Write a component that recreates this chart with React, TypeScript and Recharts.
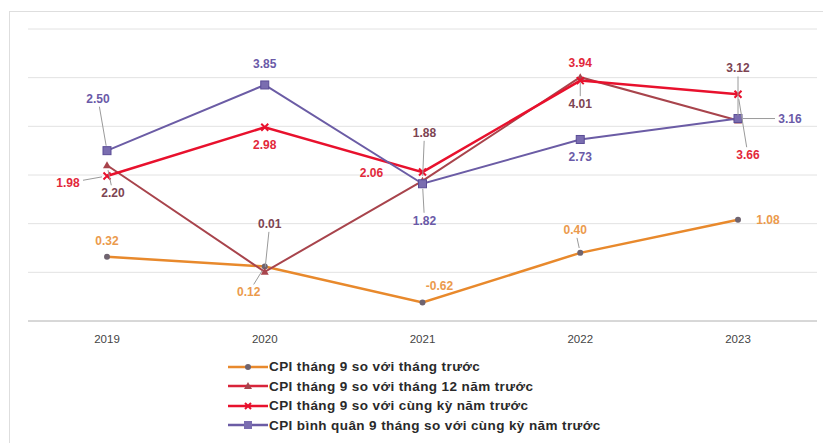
import React from 'react';
import { LineChart, Line, XAxis, YAxis, CartesianGrid, LabelList } from 'recharts';

const years = ['2019', '2020', '2021', '2022', '2023'];
const soThangTruoc = [0.32, 0.12, -0.62, 0.40, 1.08];
const soThang12 = [2.20, 0.01, 1.88, 4.01, 3.12];
const soCungKy = [1.98, 2.98, 2.06, 3.94, 3.66];
const binhQuan = [2.50, 3.85, 1.82, 2.73, 3.16];
const yTicks = [-1, 0, 1, 2, 3, 4, 5];

const names = [
    'CPI tháng 9 so với tháng trước',
    'CPI tháng 9 so với tháng 12 năm trước',
    'CPI tháng 9 so với cùng kỳ năm trước',
    'CPI bình quân 9 tháng so với cùng kỳ năm trước',
];

const data = years.map((y, i) => ({
    year: y,
    a: soThangTruoc[i],
    b: soThang12[i],
    c: soCungKy[i],
    d: binhQuan[i],
}));

// label placement per point: [dx, dy, leader line]
const offA: [number, number, boolean][] = [[0, -16, false], [-16, 26, true], [17, -17, false], [-5, -23, true], [30, 0, false]];
const offB: [number, number, boolean][] = [[6, 28, true], [5, -48, true], [2, -48, true], [0, 27, true], [0, -52, true]];
const offC: [number, number, boolean][] = [[-39, 7, true], [0, 18, false], [-51, 1, false], [0, -18, false], [10, 61, true]];
const offD: [number, number, boolean][] = [[-9, -52, true], [0, -21, false], [2, 37, true], [0, 18, false], [52, 0, true]];

const FONT = '"Liberation Sans", Arial, sans-serif';

function makeLabel(offsets: [number, number, boolean][], color: string) {
    return (props: any) => {
        const { x, y, value, index } = props;
        const [dx, dy, leader] = offsets[index];
        const cx = x + dx;
        const cy = y + dy;
        let line = null;
        if (leader) {
            const len = Math.sqrt(dx * dx + dy * dy);
            const ux = dx / len;
            const uy = dy / len;
            const s = Math.min(ux === 0 ? 999 : 15 / Math.abs(ux), uy === 0 ? 999 : 8 / Math.abs(uy));
            line = (
                <line x1={x + ux * 5} y1={y + uy * 5} x2={cx - ux * s} y2={cy - uy * s}
                    stroke="#9a9a9a" strokeWidth={1} />
            );
        }
        return (
            <g>
                {line}
                <text x={cx} y={cy} textAnchor="middle" dominantBaseline="central"
                    fill={color} fontSize={12} fontWeight="bold" fontFamily={FONT}>
                    {Number(value).toFixed(2)}
                </text>
            </g>
        );
    };
}

const CircleDot = (props: any) => (
    <circle key={props.index} cx={props.cx} cy={props.cy} r={3} fill="#6f6470" />
);
const TriDot = (props: any) => {
    const { cx, cy } = props;
    return <path key={props.index} d={`M${cx},${cy - 4}L${cx + 4},${cy + 3}L${cx - 4},${cy + 3}Z`} fill="#a8444c" />;
};
const StarDot = (props: any) => {
    const { cx, cy } = props;
    return (
        <g key={props.index}>
            <path d={`M${cx - 3.5},${cy - 3.5}L${cx + 3.5},${cy + 3.5}M${cx - 3.5},${cy + 3.5}L${cx + 3.5},${cy - 3.5}`}
                stroke="#e8112d" strokeWidth={2} />
        </g>
    );
};
const SquareDot = (props: any) => (
    <rect key={props.index} x={props.cx - 4} y={props.cy - 4} width={8} height={8} fill="#7a6db0" stroke="#5a4c96" />
);

const legendItems = [
    { name: names[0], color: '#e8892c', marker: 'circle', mcolor: '#6f6470' },
    { name: names[1], color: '#d8243a', marker: 'tri', mcolor: '#a8444c' },
    { name: names[2], color: '#e8112d', marker: 'star', mcolor: '#e8112d' },
    { name: names[3], color: '#6b5ca5', marker: 'square', mcolor: '#7a6db0' },
];

function LegendSymbol({ color, marker, mcolor }: { color: string; marker: string; mcolor: string }) {
    return (
        <svg width={40} height={12} style={{ display: 'block' }}>
            <line x1={0} y1={6} x2={40} y2={6} stroke={color} strokeWidth={2.5} />
            {marker === 'circle' && <circle cx={20} cy={6} r={3} fill={mcolor} />}
            {marker === 'tri' && <path d="M20,2L24,9L16,9Z" fill={mcolor} />}
            {marker === 'star' && <path d="M17,3L23,9M17,9L23,3" stroke={mcolor} strokeWidth={2} />}
            {marker === 'square' && <rect x={16} y={2} width={8} height={8} fill={mcolor} />}
        </svg>
    );
}

export default function App() {
    return (
        <div style={{ position: 'absolute', left: 0, top: 0, width: 823, height: 443, background: '#fff', overflow: 'hidden' }}>
            {/* frame */}
            <div style={{ position: 'absolute', left: 9, top: 11, width: 830, height: 450, border: '1.5px solid #dedede' }} />
            <div style={{ position: 'absolute', left: 0, top: 0 }}>
                <LineChart width={823} height={443} data={data} margin={{ top: 29, right: 6, bottom: 92, left: 28 }}>
                    <CartesianGrid horizontal vertical={false} stroke="#e2e2e2" />
                    <XAxis
                        dataKey="year"
                        padding={{ left: 79, right: 79 }}
                        height={30}
                        tickLine={false}
                        axisLine={{ stroke: '#cfcfcf', strokeWidth: 1.5 }}
                        tick={{ fill: '#444', fontSize: 11.5, fontFamily: FONT }}
                        tickMargin={8}
                    />
                    <YAxis hide domain={[-1, 5]} ticks={yTicks} />
                    <Line dataKey="a" name={names[0]} stroke="#e8892c" strokeWidth={2.5} dot={CircleDot} isAnimationActive={false}>
                        <LabelList dataKey="a" content={makeLabel(offA, '#eb9a4c')} />
                    </Line>
                    <Line dataKey="b" name={names[1]} stroke="#a8444c" strokeWidth={2} dot={TriDot} isAnimationActive={false}>
                        <LabelList dataKey="b" content={makeLabel(offB, '#7d4452')} />
                    </Line>
                    <Line dataKey="c" name={names[2]} stroke="#e8112d" strokeWidth={2.5} dot={StarDot} isAnimationActive={false}>
                        <LabelList dataKey="c" content={makeLabel(offC, '#e2283a')} />
                    </Line>
                    <Line dataKey="d" name={names[3]} stroke="#6b5ca5" strokeWidth={2} dot={SquareDot} isAnimationActive={false}>
                        <LabelList dataKey="d" content={makeLabel(offD, '#6a5aa8')} />
                    </Line>
                </LineChart>
            </div>
            {/* legend */}
            <div style={{ position: 'absolute', left: 228, top: 357 }}>
                {legendItems.map((it) => (
                    <div key={it.name} style={{ display: 'flex', alignItems: 'center', height: 19.5 }}>
                        <LegendSymbol color={it.color} marker={it.marker} mcolor={it.mcolor} />
                        <span style={{ marginLeft: 1, fontFamily: FONT, fontWeight: 'bold', fontSize: 13.5, letterSpacing: 0.4, color: '#2a2a2a', whiteSpace: 'nowrap' }}>
                            {it.name}
                        </span>
                    </div>
                ))}
            </div>
        </div>
    );
}
